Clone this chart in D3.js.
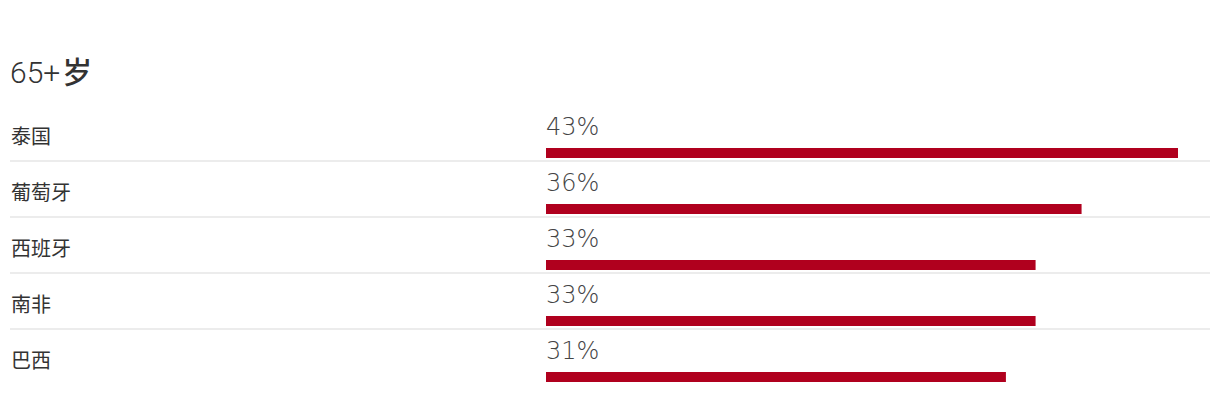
<!DOCTYPE html>
<html>
<head>
<meta charset="utf-8">
<script src="https://cdn.jsdelivr.net/npm/d3@7"></script>
<style>
  body { margin: 0; background: #fff; }
  svg { display: block; font-family: Roboto, "Noto Sans CJK SC", sans-serif; }
</style>
</head>
<body>
<svg id="chart"></svg>
<script>
const title = "65+岁";
const countries = ["泰国", "葡萄牙", "西班牙", "南非", "巴西"];
const shares = [42.6, 36.1, 33.0, 33.0, 31.0];

const width = 1220, height = 394;
const margin = {top: 104, left: 10, right: 10};
const rowStep = 56;
const barStart = 546;

const svg = d3.select("#chart")
  .attr("width", width)
  .attr("height", height);

const y = d3.scaleBand()
  .domain(countries)
  .range([margin.top, margin.top + rowStep * countries.length])
  .padding(0);

const x = d3.scaleLinear()
  .domain([0, d3.max(shares)])
  .range([barStart, 1178]);

// title: latin part light, CJK part falls back to a heavier face
svg.append("text")
  .attr("x", margin.left)
  .attr("y", 83)
  .attr("fill", "#333")
  .attr("font-size", 30)
  .selectAll("tspan")
  .data(title.match(/[\u4e00-\u9fff]+|[^\u4e00-\u9fff]+/g))
  .join("tspan")
    .attr("font-weight", d => /[\u4e00-\u9fff]/.test(d) ? 500 : 300)
    .attr("dx", (d, i) => i ? 2 : 0)
    .text(d => d);

const rows = svg.selectAll("g.row")
  .data(countries)
  .join("g")
    .attr("class", "row")
    .attr("transform", d => `translate(0,${y(d)})`);

// separators between rows
rows.filter((d, i) => i < countries.length - 1)
  .append("rect")
    .attr("x", margin.left)
    .attr("y", 56)
    .attr("width", width - margin.left - margin.right)
    .attr("height", 2)
    .attr("fill", "#ececec");

rows.append("text")
  .attr("x", 11)
  .attr("y", 40)
  .attr("fill", "#333")
  .attr("font-size", 20)
  .text(d => d);

rows.append("text")
  .attr("x", barStart)
  .attr("y", 31)
  .attr("fill", "#444")
  .attr("font-family", "'DejaVu Sans', sans-serif")
  .attr("font-size", 24)
  .attr("font-weight", 200)
  .text((d, i) => d3.format(".0f")(shares[i]) + "%");

rows.append("rect")
  .attr("x", x(0))
  .attr("y", 44)
  .attr("width", (d, i) => x(shares[i]) - x(0))
  .attr("height", 10)
  .attr("fill", "#b0001e");
</script>
</body>
</html>
